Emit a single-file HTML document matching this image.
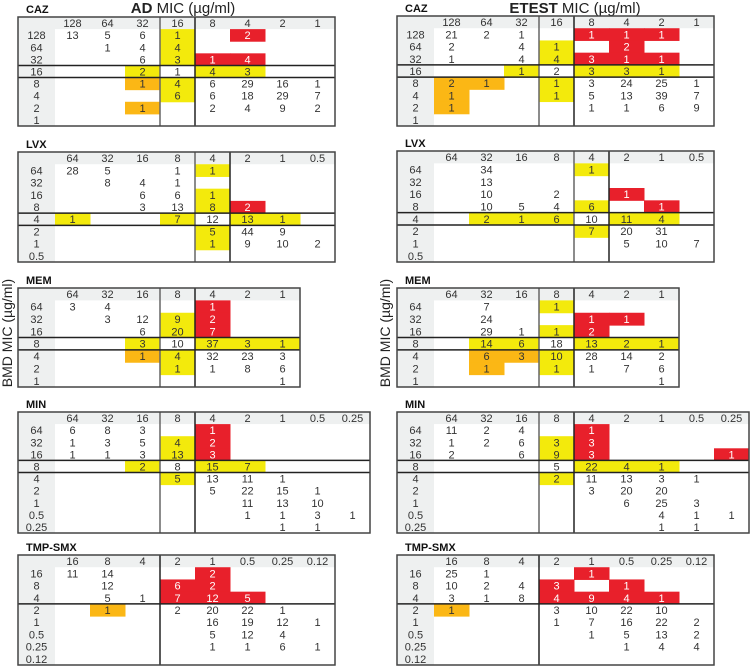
<!DOCTYPE html>
<html><head><meta charset="utf-8">
<style>
html,body{margin:0;padding:0;background:#fff;}
svg{display:block;font-family:"Liberation Sans",Arial,sans-serif;}
</style></head>
<body>
<svg id="fig" width="753" height="666" viewBox="0 0 753 666">
<text x="183" y="13" text-anchor="middle" font-size="15" fill="#222"><tspan font-weight="bold">AD</tspan> MIC (µg/ml)</text>
<text x="575" y="13" text-anchor="middle" font-size="15" fill="#222"><tspan font-weight="bold">ETEST</tspan> MIC (µg/ml)</text>
<text transform="translate(12,333) rotate(-90)" text-anchor="middle" font-size="14" fill="#222">BMD MIC (µg/ml)</text>
<text transform="translate(390,333) rotate(-90)" text-anchor="middle" font-size="14" fill="#222">BMD MIC (µg/ml)</text>
</svg>
<script>
// ---- data ----
const cazCols=["128","64","32","16","8","4","2","1"];
const cazRows=["128","64","32","16","8","4","2","1"];
const cazAD=[
"13,5,6,1Y,,2R,,",
",1,4,4Y,,,,",
",,6,3Y,1R,4R,,",
",,2Y,1,4Y,3Y,,",
",,1O,4Y,6,29,16,1",
",,,6Y,6,18,29,7",
",,1O,,2,4,9,2",
",,,,,,,"];
const cazET=[
"21,2,1,,1R,1R,1R,",
"2,,4,1Y,,2R,,",
"1,,4,4Y,3R,1R,1R,",
",,1Y,2,3Y,3Y,1Y,",
"2O,1O,,1Y,3,24,25,1",
"1O,,,1Y,5,13,39,7",
"1O,,,,1,1,6,9",
",,,,,,,"];
const lvxCols=["64","32","16","8","4","2","1","0.5"];
const lvxRows=["64","32","16","8","4","2","1","0.5"];
const lvxAD=[
"28,5,,1,1Y,,,",
",8,4,1,,,,",
",,6,6,1Y,,,",
",,3,13,8Y,2R,,",
"1Y,,,7Y,12,13Y,1Y,",
",,,,5Y,44,9,",
",,,,1Y,9,10,2",
",,,,,,,"];
const lvxET=[
",34,,,1Y,,,",
",13,,,,,,",
",10,,2,,1R,,",
",10,5,4,6Y,,1R,",
",2Y,1Y,6Y,10,11Y,4Y,",
",,,,7Y,20,31,",
",,,,,5,10,7",
",,,,,,,"];
const memCols=["64","32","16","8","4","2","1"];
const memRows=["64","32","16","8","4","2","1"];
const memAD=[
"3,4,,,1R,,",
",3,12,9Y,2R,,",
",,6,20Y,7R,,",
",,3Y,10,37Y,3Y,1Y",
",,1O,4Y,32,23,3",
",,,1Y,1,8,6",
",,,,,,1"];
const memET=[
",7,,1Y,,,",
",24,,,1R,1R,",
",29,1,1Y,2R,,",
",14Y,6Y,18,13Y,2Y,1Y",
",6O,3O,10Y,28,14,2",
",1O,,1Y,1,7,6",
",,,,,,1"];
const minCols=["64","32","16","8","4","2","1","0.5","0.25"];
const minRows=["64","32","16","8","4","2","1","0.5","0.25"];
const minAD=[
"6,8,3,,1R,,,,",
"1,3,5,4Y,2R,,,,",
"1,1,3,13Y,3R,,,,",
",,2Y,8,15Y,7Y,,,",
",,,5Y,13,11,1,,",
",,,,5,22,15,1,",
",,,,,11,13,10,",
",,,,,1,1,3,1",
",,,,,,1,1,"];
const minET=[
"11,2,4,,1R,,,,",
"1,2,6,3Y,3R,,,,",
"2,,6,9Y,3R,,,,1R",
",,,5,22Y,4Y,1Y,,",
",,,2Y,11,13,3,1,",
",,,,3,20,20,,",
",,,,,6,25,3,",
",,,,,,4,1,1",
",,,,,,1,1,"];
const tmpCols=["16","8","4","2","1","0.5","0.25","0.12"];
const tmpRows=["16","8","4","2","1","0.5","0.25","0.12"];
const tmpAD=[
"11,14,,,2R,,,",
",12,,6R,2R,,,",
",5,1,7R,12R,5R,,",
",1O,,2,20,22,1,",
",,,,16,19,12,1",
",,,,5,12,4,",
",,,,1,1,6,1",
",,,,,,,"];
const tmpET=[
"25,1,,,1R,,,",
"10,2,4,3R,,1R,,",
"3,1,8,4R,9R,4R,1R,",
"1O,,,3,10,22,10,",
",,,1,7,16,22,2",
",,,,1,5,13,2",
",,,,,1,4,4",
",,,,,,,"];

const svg=document.getElementById('fig');
const NS="http://www.w3.org/2000/svg";
const COL={Y:"#f3ea0c",R:"#e8202b",O:"#fbb715"};
function mk(tag,attrs,parent){const e=document.createElementNS(NS,tag);for(const k in attrs)e.setAttribute(k,attrs[k]);(parent||svg).appendChild(e);return e;}

function drawTable(name,label,x0,top,bottom,cols,rows,grid,iCol,iRow,split){
  const g=mk('g',{});
  
  
  const labW=37,cw=35,n=rows.length+1,rh=(bottom-top)/n;
  const W=labW+cw*cols.length;
  const xs=i=>x0+labW+i*cw, ys=j=>top+rh*(j+1);
  const t=mk('text',{x:x0+8,y:top-4,'font-size':11,'font-weight':'bold',fill:'#111'},g);
  t.textContent=label;
  
  
  mk('rect',{x:x0,y:top,width:W,height:rh,fill:'#eef0f0'},g);
  mk('rect',{x:x0,y:top,width:labW,height:bottom-top,fill:'#eef0f0'},g);
  cols.forEach((c,i)=>{
    const tx=mk('text',{x:xs(i)+cw/2,y:top+rh/2+4,'text-anchor':'middle','font-size':11,fill:'#333'},g);
    tx.textContent=c;
    
    
  });
  rows.forEach((r,j)=>{
    const tx=mk('text',{x:x0+labW/2,y:ys(j)+rh/2+4,'text-anchor':'middle','font-size':11,fill:'#333'},g);
    tx.textContent=r;
    
    
    grid[j].split(',').forEach((v,i)=>{
      if(!v)return;
      const c=v.slice(-1);let num=v,fill=null;
      if(COL[c]){fill=COL[c];num=v.slice(0,-1);}
      if(fill){
        const rc=mk('rect',{x:xs(i),y:ys(j),width:cw+0.5,height:rh+0.5,fill:fill},g);
        
        
      }
      if(num){
        const tv=mk('text',{x:xs(i)+cw/2,y:ys(j)+rh/2+4,'text-anchor':'middle','font-size':11,fill:c==='R'?'#fff':'#333'},g);
        tv.textContent=num;
        
        
      }
    });
  });
  // breakpoint lines
  if(split){
    mk('line',{x1:xs(split),x2:xs(split),y1:top,y2:bottom,stroke:'#222','stroke-width':1.5},g);
    mk('line',{x1:x0,x2:x0+W,y1:ys(split),y2:ys(split),stroke:'#222','stroke-width':1.5},g);
  } else {
    mk('line',{x1:xs(iCol),x2:xs(iCol),y1:top,y2:bottom,stroke:'#666','stroke-width':1.5},g);
    mk('line',{x1:xs(iCol+1),x2:xs(iCol+1),y1:top,y2:bottom,stroke:'#222','stroke-width':1.5},g);
    mk('line',{x1:x0,x2:x0+W,y1:ys(iRow),y2:ys(iRow),stroke:'#222','stroke-width':1.5},g);
    mk('line',{x1:x0,x2:x0+W,y1:ys(iRow+1),y2:ys(iRow+1),stroke:'#222','stroke-width':1.5},g);
  }
  mk('rect',{x:x0,y:top,width:W,height:bottom-top,fill:'none',stroke:'#444','stroke-width':1.5},g);
}
const LX=18,RX=397;
drawTable('caz-ad','CAZ',LX,17,126,cazCols,cazRows,cazAD,3,3);
drawTable('caz-etest','CAZ',RX,16,126,cazCols,cazRows,cazET,3,3);
drawTable('lvx-ad','LVX',LX,152,262,lvxCols,lvxRows,lvxAD,4,4);
drawTable('lvx-etest','LVX',RX,151,262,lvxCols,lvxRows,lvxET,4,4);
drawTable('mem-ad','MEM',LX,288,387,memCols,memRows,memAD,3,3);
drawTable('mem-etest','MEM',RX,288,387,memCols,memRows,memET,3,3);
drawTable('min-ad','MIN',LX,412,533,minCols,minRows,minAD,3,3);
drawTable('min-etest','MIN',RX,412,533,minCols,minRows,minET,3,3);
drawTable('tmp-smx-ad','TMP-SMX',LX,555,665,tmpCols,tmpRows,tmpAD,0,0,3);
drawTable('tmp-smx-etest','TMP-SMX',RX,555,665,tmpCols,tmpRows,tmpET,0,0,3);
</script>
</body></html>
